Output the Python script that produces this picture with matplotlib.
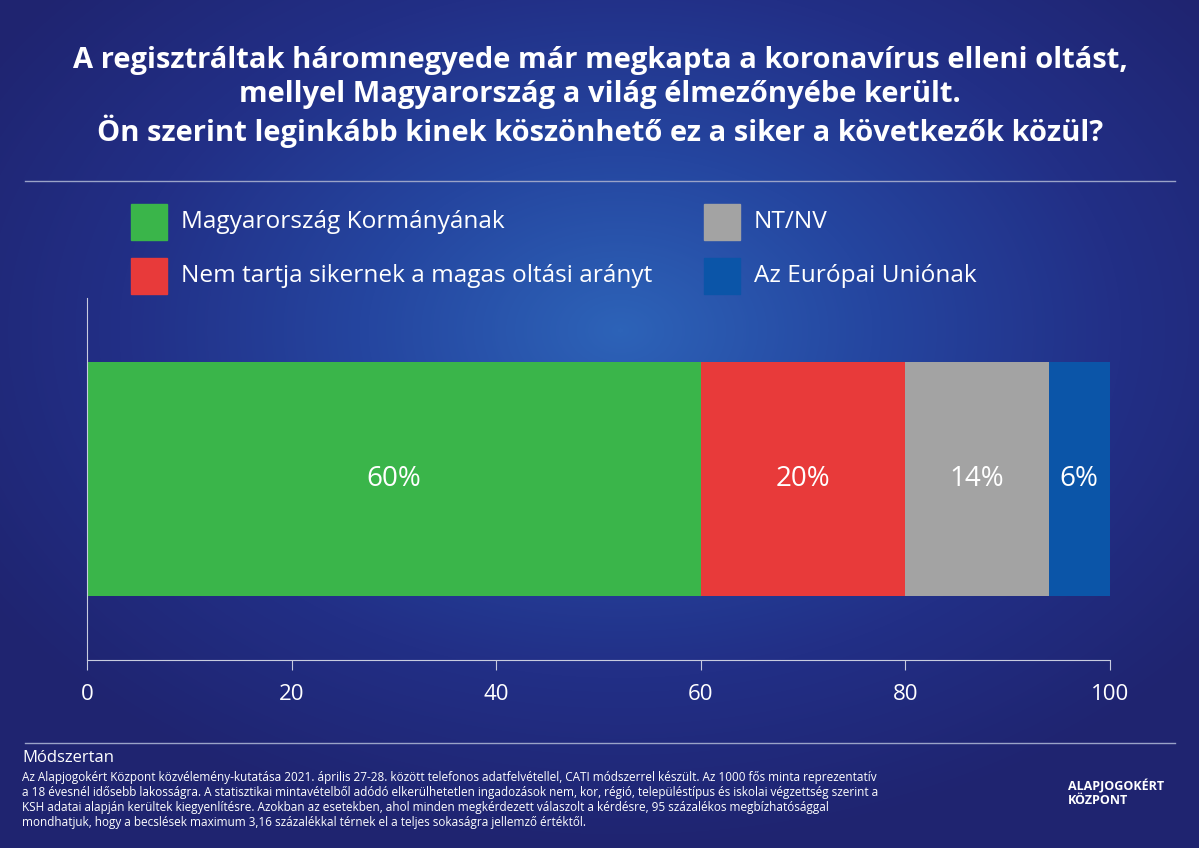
import numpy as np
import matplotlib.pyplot as plt
from matplotlib.patches import Rectangle
from matplotlib.colors import LinearSegmentedColormap

categories = ["Magyarország Kormányának", "Nem tartja sikernek a magas oltási arányt", "NT/NV", "Az Európai Uniónak"]
values = [60, 20, 14, 6]
colors = ["#3ab54a", "#e83a3a", "#a3a3a3", "#0b55a8"]
ticks = [0, 20, 40, 60, 80, 100]

title = ("A regisztráltak háromnegyede már megkapta a koronavírus elleni oltást,\n"
         "mellyel Magyarország a világ élmezőnyébe került.\n"
         "Ön szerint leginkább kinek köszönhető ez a siker a következők közül?")
note = ("Az Alapjogokért Központ közvélemény-kutatása 2021. április 27-28. között telefonos adatfelvétellel, CATI módszerrel készült. Az 1000 fős minta reprezentatív\n"
        "a 18 évesnél idősebb lakosságra. A statisztikai mintavételből adódó elkerülhetetlen ingadozások nem, kor, régió, településtípus és iskolai végzettség szerint a\n"
        "KSH adatai alapján kerültek kiegyenlítésre. Azokban az esetekben, ahol minden megkérdezett válaszolt a kérdésre, 95 százalékos megbízhatósággal\n"
        "mondhatjuk, hogy a becslések maximum 3,16 százalékkal térnek el a teljes sokaságra jellemző értéktől.")

plt.rcParams['font.family'] = ['Open Sans', 'DejaVu Sans']
W, H = 1199, 848
fig = plt.figure(figsize=(W / 100, H / 100), dpi=100)

# background gradient
bg = fig.add_axes([0, 0, 1, 1])
yy, xx = np.mgrid[0:H, 0:W]
d = np.sqrt(((xx - 620) / 750.0) ** 2 + ((yy - 330) / 520.0) ** 2)
cmap = LinearSegmentedColormap.from_list("bg", ["#2d63b8", "#2546a0", "#222f86", "#1f2470"])
bg.imshow(np.clip(d, 0, 1), cmap=cmap, aspect="auto", extent=[0, W, H, 0])
bg.set_xlim(0, W); bg.set_ylim(H, 0); bg.axis("off")

bg.text(600, 97, title, color="white", fontsize=21, fontweight="bold", ha="center", va="center", linespacing=1.2)
bg.plot([25, 1175], [181, 181], color="#9aa3c8", lw=1)
bg.plot([25, 1175], [743, 743], color="#9aa3c8", lw=1)

leg_pos = [(131, 204), (131, 258), (704, 204), (704, 258)]
for (x, y), c, lab in zip(leg_pos, colors, categories):
    bg.add_patch(Rectangle((x, y), 36, 36, color=c))
    bg.text(x + 50, y + 18, lab, color="white", fontsize=17.6, va="center")

bg.text(22, 758, "Módszertan", color="white", fontsize=12, va="center")
bg.text(22, 800, note, color="white", fontsize=8.5, va="center", linespacing=1.2)
bg.text(1068, 793, "ALAPJOGOKÉRT\nKÖZPONT", color="white", fontsize=9, fontweight="bold", va="center", linespacing=1.1)

ax = fig.add_axes([87 / W, 1 - 660 / H, 1023 / W, 362 / H])
ax.patch.set_alpha(0)
left = 0
for v, c in zip(values, colors):
    ax.barh(0.5, v, left=left, height=0.644, color=c)
    ax.text(left + v / 2, 0.5, f"{v}%", color="white", fontsize=20, ha="center", va="center")
    left += v
ax.set_xlim(0, 100)
ax.set_ylim(0, 1)
ax.set_xticks(ticks)
ax.set_xticklabels([str(t) for t in ticks], color="white", fontsize=16)
ax.set_yticks([])
ax.tick_params(axis="x", colors="#c8cce0", length=7, labelcolor="white", pad=10)
for s in ["top", "right"]:
    ax.spines[s].set_visible(False)
for s in ["left", "bottom"]:
    ax.spines[s].set_color("#c8cce0")

fig.savefig("out.png", dpi=100)
